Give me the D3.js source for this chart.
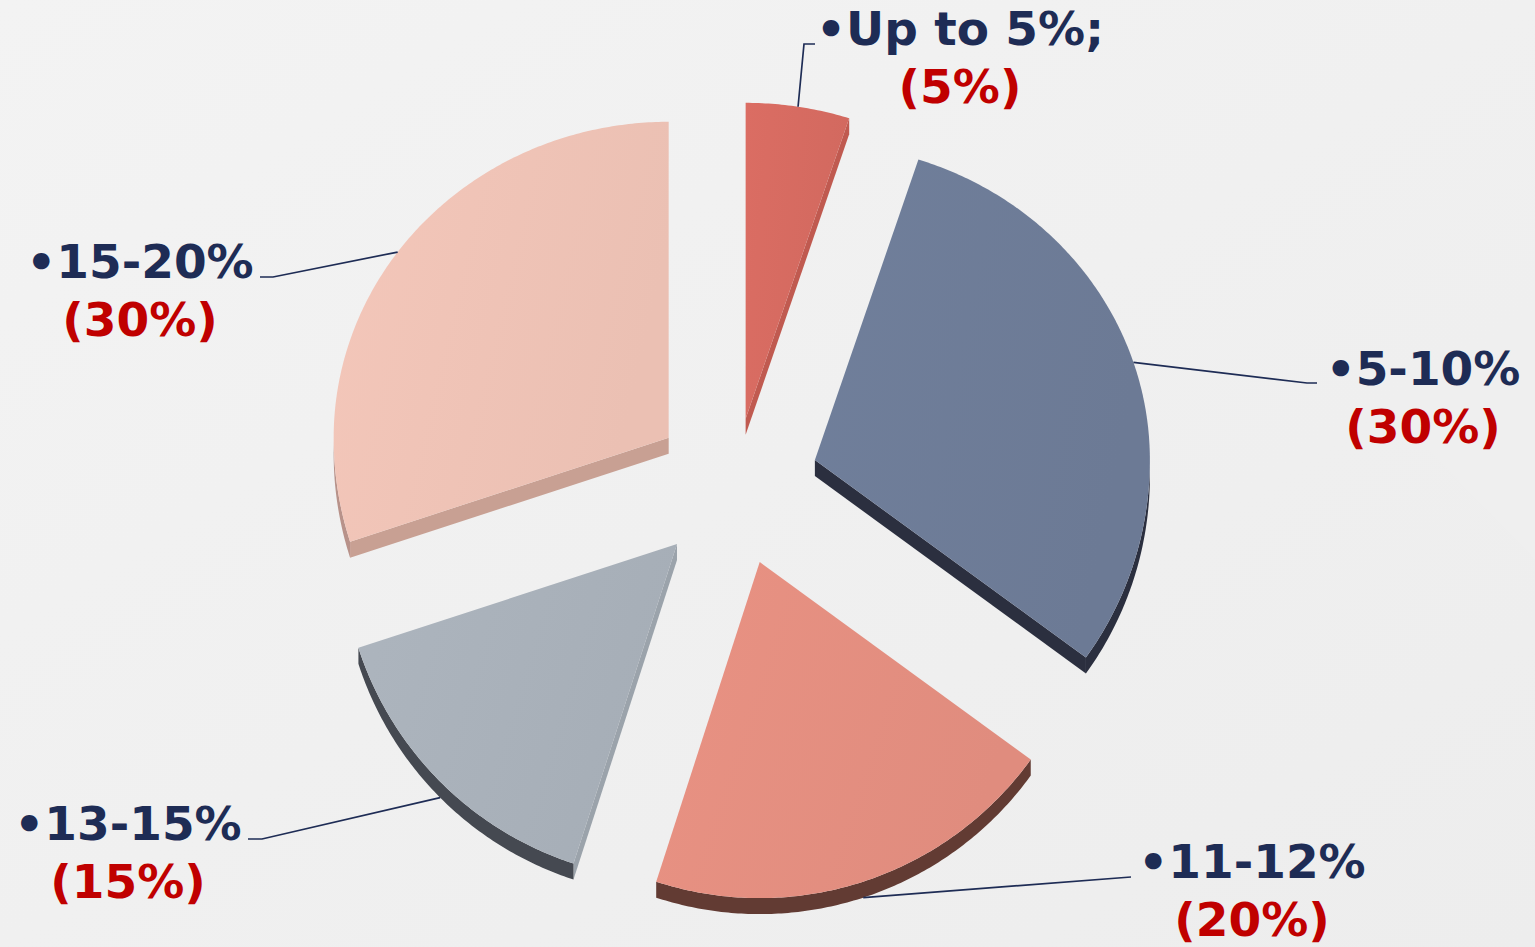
<!DOCTYPE html>
<html>
<head>
<meta charset="utf-8">
<script src="https://cdn.jsdelivr.net/npm/d3@7"></script>
<style>
  body { margin: 0; background: #f1f1f1; overflow: hidden; }
  svg { display: block; }
</style>
</head>
<body>
<div id="chart"></div>
<script>
// data
const categories = ["Up to 5%;", "5-10%", "11-12%", "13-15%", "15-20%"];
const shares = [5, 30, 20, 15, 30];
const valueLabels = ["(5%)", "(30%)", "(20%)", "(15%)", "(30%)"];

// styling per slice
const topColors = ["#d66b61", "#6e7c98", "#e48f80", "#a9b1ba", "#efc3b6"];
const wallColors = ["#c05a50", "#2b2f3f", "#623b33", "#9ba3ab", "#c8a093"];
const arcWallColors = ["#b3524a", "#2b2f3f", "#623b33", "#454951", "#b8928a"];
const explode = [68, 84, 80, 82, 82];
// label layout: centre x, first baseline, leader elbow x, elbow y, tail x
const labelPos = [
  [960, 45, 804, 44, 815],
  [1423, 385, 1307, 383, 1317],
  [1252, 878, 1131, 877, 1131],
  [128, 840, 262, 839, 248],
  [140, 278, 273, 277, 260]
];

const W = 1535, H = 947;
const cx = 735, cy = 486, rx = 335, ryTop = 316, ryBottom = 336, depth = 16;
const navy = "#1e2c55", red = "#c00000";

const svg = d3.select("#chart").append("svg")
    .attr("width", W)
    .attr("height", H);

const defs = svg.append("defs");

// soft background
const bg = defs.append("linearGradient").attr("id", "bg")
    .attr("x1", 0).attr("y1", 0).attr("x2", 1).attr("y2", 1);
bg.append("stop").attr("offset", "0%").attr("stop-color", "#f3f3f3");
bg.append("stop").attr("offset", "100%").attr("stop-color", "#ededed");
svg.append("rect").attr("width", W).attr("height", H).attr("fill", "url(#bg)");
svg.append("path")
    .attr("d", "M990,0 L1535,560 L1535,0 Z")
    .attr("fill", "#ffffff").attr("opacity", 0.06);

const pie = d3.pie().sort(null).value(d => d).startAngle(0).endAngle(2 * Math.PI);
const arcs = pie(shares);
const line = d3.line();

// slightly tilted view: far half a bit flatter than the near half
function pt(o, a) {
  const c = Math.cos(a);
  return [o[0] + rx * Math.sin(a), o[1] - (c > 0 ? ryTop : ryBottom) * c];
}
function arcPts(o, a0, a1) {
  const n = Math.max(2, Math.ceil((a1 - a0) / 0.01));
  return d3.range(n + 1).map(i => pt(o, a0 + (a1 - a0) * i / n));
}
const down = p => [p[0], p[1] + depth];

const slices = arcs.map((d, i) => {
  const m = (d.startAngle + d.endAngle) / 2;
  const o = [cx + explode[i] * Math.sin(m), cy - explode[i] * Math.cos(m)];
  return { d, i, m, o };
});

const g = svg.append("g");

// side walls first
slices.forEach(s => {
  const { d, i, o } = s;
  const a0 = d.startAngle, a1 = d.endAngle;
  if (Math.sin(a0) < -1e-6) {
    const p = pt(o, a0);
    g.append("path")
      .attr("d", line([o, p, down(p), down(o)]) + "Z")
      .attr("fill", wallColors[i]);
  }
  if (Math.sin(a1) > 1e-6) {
    const p = pt(o, a1);
    g.append("path")
      .attr("d", line([o, p, down(p), down(o)]) + "Z")
      .attr("fill", wallColors[i]);
  }
  const b0 = Math.max(a0, Math.PI / 2), b1 = Math.min(a1, 3 * Math.PI / 2);
  if (b1 > b0) {
    const pts = arcPts(o, b0, b1);
    g.append("path")
      .attr("d", line(pts.concat(pts.slice().reverse().map(down))) + "Z")
      .attr("fill", arcWallColors[i]);
  }
});

// top faces
slices.forEach(s => {
  const { d, i, o } = s;
  const grad = defs.append("linearGradient")
      .attr("id", "top" + i)
      .attr("x1", 0).attr("y1", 0).attr("x2", 1).attr("y2", 0.3);
  grad.append("stop").attr("offset", "0%")
      .attr("stop-color", d3.color(topColors[i]).brighter(0.06));
  grad.append("stop").attr("offset", "100%")
      .attr("stop-color", d3.color(topColors[i]).darker(0.05));
  g.append("path")
    .attr("d", line([o].concat(arcPts(o, d.startAngle, d.endAngle))) + "Z")
    .attr("fill", "url(#top" + i + ")");
});

// leader lines
slices.forEach(s => {
  const { i, m, o } = s;
  let p = pt(o, m);
  if (Math.cos(m) < 0) p = down(p);
  const lp = labelPos[i];
  svg.append("path")
    .attr("d", line([p, [lp[2], lp[3]], [lp[4], lp[3]]]))
    .attr("fill", "none")
    .attr("stroke", navy)
    .attr("stroke-width", 1.7);
});

// labels
const labels = svg.append("g")
    .attr("font-family", "'DejaVu Sans', Verdana, sans-serif")
    .attr("font-weight", "bold")
    .attr("font-size", 47)
    .attr("text-anchor", "middle");

categories.forEach((c, i) => {
  const lp = labelPos[i];
  labels.append("text")
    .attr("x", lp[0]).attr("y", lp[1])
    .attr("fill", navy)
    .text("\u2022" + c);
  labels.append("text")
    .attr("x", lp[0]).attr("y", lp[1] + 58)
    .attr("fill", red)
    .text(valueLabels[i]);
});
</script>
</body>
</html>
